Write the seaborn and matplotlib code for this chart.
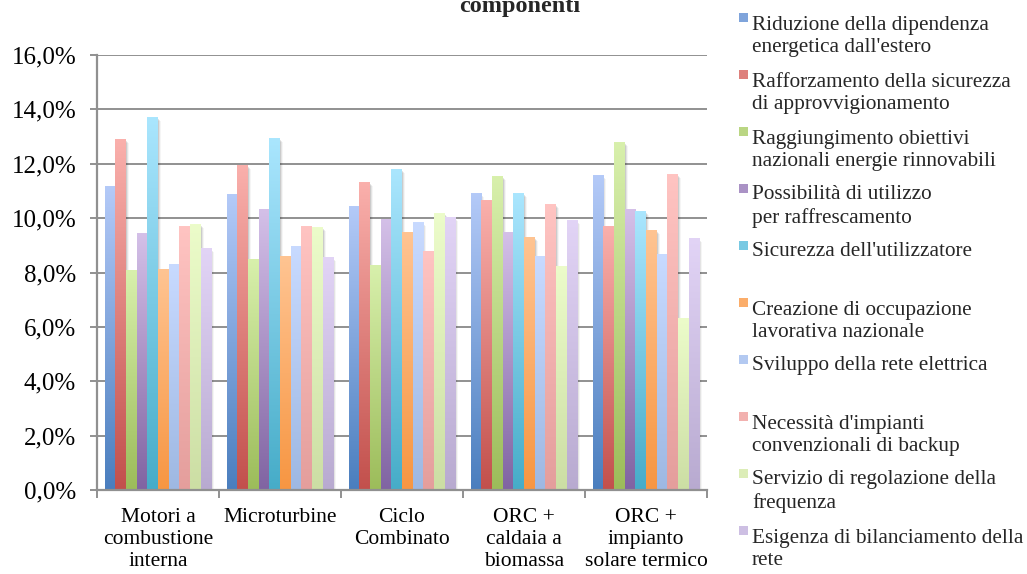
import numpy as np
import pandas as pd
import matplotlib
matplotlib.use("Agg")
import matplotlib.pyplot as plt
import seaborn as sns
from matplotlib.patches import Rectangle
from matplotlib.ticker import FuncFormatter, FixedLocator

# ---- data (percent) ----
categories = [
    "Motori a\ncombustione\ninterna",
    "Microturbine",
    "Ciclo\nCombinato",
    "ORC +\ncaldaia a\nbiomassa",
    "ORC +\nimpianto\nsolare termico",
]
series_names = [
    "Riduzione della dipendenza\nenergetica dall'estero",
    "Rafforzamento della sicurezza\ndi approvvigionamento",
    "Raggiungimento obiettivi\nnazionali energie rinnovabili",
    "Possibilità di utilizzo\nper raffrescamento",
    "Sicurezza dell'utilizzatore",
    "Creazione di occupazione\nlavorativa nazionale",
    "Sviluppo della rete elettrica",
    "Necessità d'impianti\nconvenzionali di backup",
    "Servizio di regolazione della\nfrequenza",
    "Esigenza di bilanciamento della\nrete",
]
riduzione = [11.16, 10.86, 10.42, 10.90, 11.56]
rafforzamento = [12.88, 11.93, 11.30, 10.64, 9.69]
raggiungimento = [8.07, 8.48, 8.26, 11.52, 12.77]
raffrescamento = [9.43, 10.31, 9.96, 9.47, 10.31]
sicurezza = [13.69, 12.92, 11.78, 10.90, 10.24]
occupazione = [8.11, 8.59, 9.47, 9.28, 9.54]
rete_elettrica = [8.29, 8.95, 9.83, 8.59, 8.66]
backup = [9.69, 9.69, 8.77, 10.50, 11.60]
frequenza = [9.76, 9.65, 10.17, 8.22, 6.31]
bilanciamento = [8.88, 8.55, 10.02, 9.91, 9.25]
values = [riduzione, rafforzamento, raggiungimento, raffrescamento, sicurezza,
          occupazione, rete_elettrica, backup, frequenza, bilanciamento]
yticks = [0, 2, 4, 6, 8, 10, 12, 14, 16]

# gradient colours: bottom (dark) -> top (light)
bottom_cols = [(74, 126, 190), (194, 80, 76), (156, 188, 90), (128, 100, 162), (70, 172, 200),
               (247, 150, 66), (158, 184, 226), (228, 158, 156), (204, 222, 164), (184, 170, 208)]
top_cols = [(180, 202, 248), (250, 176, 172), (216, 240, 172), (212, 192, 232), (170, 230, 254),
            (255, 196, 146), (200, 218, 255), (255, 196, 194), (236, 252, 202), (226, 212, 246)]
bottom_cols = [tuple(c / 255 for c in col) for col in bottom_cols]
top_cols = [tuple(c / 255 for c in col) for col in top_cols]

df = pd.DataFrame(
    [(categories[j], series_names[i], values[i][j])
     for i in range(len(series_names)) for j in range(len(categories))],
    columns=["categoria", "serie", "valore"],
)

sns.set_style("white")
plt.rcParams["font.family"] = ["Liberation Serif", "DejaVu Serif"]

W, H = 1027, 574
fig = plt.figure(figsize=(W / 100, H / 100), dpi=100)
ax = fig.add_axes([97 / W, 1 - 490 / H, 610 / W, 435 / H])

sns.barplot(data=df, x="categoria", y="valore", hue="serie", order=categories,
            hue_order=series_names, palette=bottom_cols, width=0.875,
            saturation=1, legend=False, ax=ax)

# replace flat bars with vertical gradients plus a soft shadow
t = np.linspace(0, 1, 256)[:, None, None]
px_x = 1 / 122.0
px_y = 1 / 27.2
for i, cont in enumerate(ax.containers):
    b = np.array(bottom_cols[i])[None, None, :]
    tp = np.array(top_cols[i])[None, None, :]
    img = b + (tp - b) * t
    for bar in cont:
        x0, w, h = bar.get_x(), bar.get_width(), bar.get_height()
        for k, a in enumerate([0.10, 0.07, 0.04]):
            ax.add_patch(Rectangle((x0 + (k + 1) * px_x, 0), w, h - (k + 1) * px_y,
                                   facecolor="black", alpha=a, lw=0, zorder=1.5))
        ax.imshow(img, extent=(x0, x0 + w, 0, h), origin="lower", aspect="auto",
                  interpolation="bilinear", zorder=2 + i * 0.01)
        bar.set_visible(False)

ax.set_xlim(-0.5, len(categories) - 0.5)
ax.set_ylim(0, 16)

# axes styling
grey = "#909090"
ax.yaxis.grid(True, color=grey, lw=1.4)
ax.set_axisbelow(True)
for s in ["top", "right"]:
    ax.spines[s].set_visible(False)
for s in ["left", "bottom"]:
    ax.spines[s].set_color(grey)
    ax.spines[s].set_linewidth(1.6)

ax.set_yticks(yticks)
ax.yaxis.set_major_formatter(FuncFormatter(lambda v, p: f"{v:.1f}%".replace(".", ",")))
ax.tick_params(axis="y", which="major", length=5, width=1.4, color=grey,
               direction="out", left=True, pad=10, labelsize=18, labelcolor="black")

ax.set_xticks(range(len(categories)))
ax.set_xticklabels(categories)
ax.xaxis.set_minor_locator(FixedLocator(np.arange(-0.5, len(categories), 1.0)))
ax.tick_params(axis="x", which="major", length=0, pad=13, labelsize=15.5, labelcolor="black")
ax.tick_params(axis="x", which="minor", length=6, width=1.4, color=grey,
               direction="out", bottom=True)
for lab in ax.get_xticklabels():
    lab.set_linespacing(1.2)
ax.set_xlabel("")
ax.set_ylabel("")

# title (second line of the chart title)
fig.text(520 / W, 1 - 12 / H, "componenti", ha="center", va="baseline",
         fontsize=17.5, fontweight="bold")

# legend at the right
line_px = 23.3
mid_cols = [tuple((np.array(bottom_cols[i]) + np.array(top_cols[i])) / 2) for i in range(10)]
for i, name in enumerate(series_names):
    base = 28.3 + 57.0 * i
    last_base = base + line_px * name.count("\n")
    fig.patches.append(Rectangle((739 / W, 1 - (base - 6) / H), 9 / W, 9 / H,
                                 transform=fig.transFigure, facecolor=mid_cols[i],
                                 lw=0, figure=fig))
    fig.text(752 / W, 1 - last_base / H, name, ha="left", va="baseline",
             fontsize=15.3, linespacing=1.22)

fig.savefig("out.png", dpi=100)
